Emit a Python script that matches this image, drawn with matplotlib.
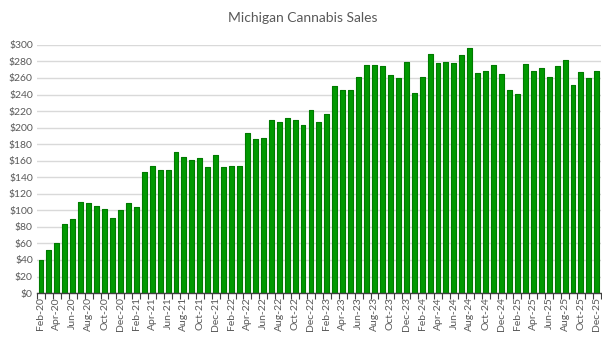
import matplotlib
matplotlib.use("Agg")
import matplotlib.pyplot as plt
import numpy as np

plt.rcParams['font.family'] = ['Lato', 'DejaVu Sans']

months = ['Jan', 'Feb', 'Mar', 'Apr', 'May', 'Jun', 'Jul', 'Aug', 'Sep', 'Oct', 'Nov', 'Dec']
categories = []
for y in range(20, 26):
    for i, m in enumerate(months):
        if y == 20 and i == 0:
            continue
        categories.append(f"{m}-{y}")

sales_2020 = [40, 52, 61, 84, 90, 110, 109, 105, 102, 91, 101]
sales_2021 = [109, 104, 146, 153, 149, 149, 170, 165, 161, 163, 152, 167]
sales_2022 = [152, 154, 153, 194, 186, 187, 209, 207, 212, 209, 203, 221]
sales_2023 = [207, 216, 250, 246, 246, 261, 276, 276, 275, 263, 260, 279]
sales_2024 = [242, 261, 289, 278, 279, 278, 288, 296, 266, 268, 276, 265]
sales_2025 = [246, 241, 277, 269, 272, 261, 274, 282, 251, 267, 260, 269]
sales = sales_2020 + sales_2021 + sales_2022 + sales_2023 + sales_2024 + sales_2025

y_ticks = list(range(0, 301, 20))

fig = plt.figure(figsize=(6.02, 3.40), dpi=100)
ax = fig.add_axes([0.0615, 0.138, 0.9365, 0.730])

x = np.arange(len(sales))
ax.bar(x, sales, width=0.62, color='#009900', edgecolor='#007a00', linewidth=0.8,
       joinstyle='round', zorder=3)

ax.set_xlim(-0.5, len(sales) - 0.5)
ax.set_ylim(0, 300)
ax.set_yticks(y_ticks)
ax.set_yticklabels([f"${v}" for v in y_ticks], fontsize=7.5, color='#595959')
ax.yaxis.grid(True, color='#d9d9d9', linewidth=1.0, zorder=0)
ax.tick_params(axis='y', length=0, pad=3)

# x labels every 2nd category, ticks at boundaries
ax.set_xticks(x[::2])
ax.set_xticklabels(categories[::2], rotation=90, fontsize=7.5, color='#595959')
ax.tick_params(axis='x', which='major', length=0, pad=3)
ax.set_xticks(np.arange(-0.5, len(sales), 1.0), minor=True)
ax.tick_params(axis='x', which='minor', length=4, width=0.8, color='#404040', direction='out')

for s in ['top', 'right', 'left']:
    ax.spines[s].set_visible(False)
ax.spines['bottom'].set_color('#404040')
ax.spines['bottom'].set_linewidth(1.0)
ax.spines['bottom'].set_zorder(4)

fig.text(0.503, 0.947, 'Michigan Cannabis Sales', ha='center', va='center',
         fontsize=10, color='#595959')

fig.savefig('out.png', dpi=100)
